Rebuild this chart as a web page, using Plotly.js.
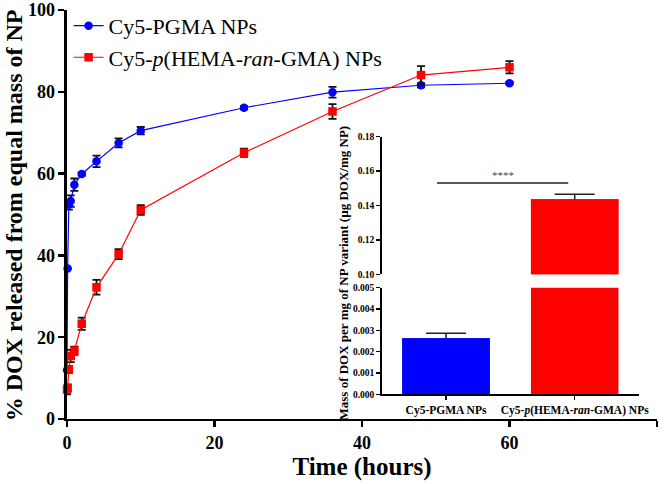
<!DOCTYPE html>
<html>
<head>
<meta charset="utf-8">
<script src="https://cdn.plot.ly/plotly-3.0.1.min.js"></script>
<style>
  html, body { margin:0; padding:0; background:#fff; }
  #chart { width:666px; height:484px; }
</style>
</head>
<body>
<div id="chart"></div>
<script>
// release profile, % DOX released vs time (h)
const timeH      = [0, 0.083, 0.25, 0.5, 1, 2, 4, 7, 10, 24, 36, 48, 60];
const pgmaRel    = [12.0, 36.8, 52.4, 53.3, 57.3, 59.9, 63.0, 67.5, 70.5, 76.1, 79.9, 81.6, 82.1];
const pgmaErr    = [0, 0, 1.2, 1.4, 1.5, 0.4, 1.4, 1.1, 0.9, 0.4, 1.3, 0.5, 0.3];
const hemaRel    = [7.2, 7.6, 12.1, 15.4, 16.7, 23.3, 32.2, 40.3, 51.1, 65.1, 75.2, 84.1, 86.0];
const hemaErr    = [1.2, 0.8, 0.8, 1.5, 1.0, 1.5, 1.8, 1.2, 1.2, 1.0, 1.8, 2.2, 1.5];

// inset: DOX loading per mg NP
const barCats  = ['Cy5-PGMA NPs', 'Cy5-<i>p</i>(HEMA-<i>ran</i>-GMA) NPs'];
const barMeans = [0.00263, 0.1436];
const barErr   = [0.00023, 0.0029];

const serif = 'Liberation Serif, Times New Roman, serif';
const BLUE = '#0000ff', RED = '#ff0000';

const errStyle = (arr) => ({ type:'data', array:arr, visible:true, color:'#111', thickness:1.8, width:4 });

const main = [
  { x:timeH, y:pgmaRel, name:'Cy5-PGMA NPs', type:'scatter', mode:'lines+markers',
    line:{color:BLUE, width:1.2}, marker:{symbol:'circle', size:8.5, color:BLUE},
    error_y:errStyle(pgmaErr), cliponaxis:false },
  { x:timeH, y:hemaRel, name:'Cy5-<i>p</i>(HEMA-<i>ran</i>-GMA) NPs', type:'scatter', mode:'lines+markers',
    line:{color:RED, width:1.2}, marker:{symbol:'square', size:8.5, color:RED},
    error_y:errStyle(hemaErr), cliponaxis:false },
];

// inset bars: first trace carries the error bar, a plain copy on top hides the lower whisker
const barErrStyle = (v) => ({ type:'data', array:[v], symmetric:true, visible:true, color:'#222', thickness:1.5, width:20 });
const inset = [
  { x:[barCats[0]], y:[barMeans[0]], type:'bar', xaxis:'x2', yaxis:'y3', width:0.68,
    marker:{color:BLUE}, error_y:barErrStyle(barErr[0]), showlegend:false, hoverinfo:'skip' },
  { x:barCats, y:barMeans, type:'bar', xaxis:'x2', yaxis:'y3', width:0.68,
    marker:{color:[BLUE, RED]}, showlegend:false },
  { x:[barCats[1]], y:[barMeans[1]], type:'bar', xaxis:'x2', yaxis:'y2', width:0.68,
    marker:{color:RED}, error_y:barErrStyle(barErr[1]), showlegend:false, hoverinfo:'skip' },
  { x:[barCats[1]], y:[barMeans[1]], type:'bar', xaxis:'x2', yaxis:'y2', width:0.68,
    marker:{color:RED}, showlegend:false },
];

const mainAxis = {
  showline:true, linecolor:'#000', linewidth:2.5, ticks:'outside', ticklen:6, tickwidth:2.5,
  tickcolor:'#000', showgrid:false, zeroline:false,
  tickfont:{family:serif, size:18, color:'#000', weight:'bold'},
};
const insetY = {
  showline:true, linecolor:'#000', linewidth:1.5, ticks:'outside', ticklen:4, tickwidth:1.5,
  tickcolor:'#000', showgrid:false, zeroline:false, anchor:'x2',
  tickfont:{family:serif, size:9.5, color:'#000', weight:'bold'},
};

const layout = {
  width:666, height:484, margin:{l:0, r:0, t:0, b:0},
  paper_bgcolor:'#fff', plot_bgcolor:'rgba(0,0,0,0)',
  barmode:'overlay', showlegend:true,
  legend:{x:0.103, y:0.99, xanchor:'left', yanchor:'top', bgcolor:'rgba(0,0,0,0)',
          font:{family:serif, size:22, color:'#000'}, tracegroupgap:0},
  xaxis:{ ...mainAxis, domain:[0.1006, 0.9865], range:[0, 80], dtick:20, anchor:'y',
          title:{text:'<b>Time (hours)</b>', font:{family:serif, size:25, color:'#000'}, standoff:2} },
  yaxis:{ ...mainAxis, domain:[0.1343, 0.9793], range:[0, 100], dtick:20, anchor:'x' },
  xaxis2:{ domain:[0.5731, 0.9595], anchor:'y3', type:'category',
           categoryorder:'array', categoryarray:barCats, range:[-0.5, 1.5],
           showline:true, linecolor:'#000', linewidth:1.5, ticks:'outside', ticklen:4, tickwidth:1.5,
           tickcolor:'#000', showgrid:false, zeroline:false,
           tickfont:{family:serif, size:11.5, color:'#000', weight:'bold'} },
  yaxis2:{ ...insetY, domain:[0.4333, 0.7176], range:[0.10, 0.18], dtick:0.02, tickformat:'.2f' },
  yaxis3:{ ...insetY, domain:[0.1853, 0.4056], range:[0, 0.005], dtick:0.001, tickformat:'.3f' },
  shapes:[
    { type:'line', xref:'x2', yref:'y2', x0:-0.07, x1:0.95, y0:0.1531, y1:0.1531,
      line:{color:'#222', width:1.5} },
  ],
  annotations:[
    { text:'<b>% DOX released from equal mass of NP</b>', textangle:-90, showarrow:false,
      xref:'paper', yref:'paper', x:0.0215, y:0.556, xanchor:'center', yanchor:'middle',
      font:{family:serif, size:24, color:'#000'} },
    { text:'<b>Mass of DOX per mg of NP variant (µg DOX/mg NP)</b>', textangle:-90, showarrow:false,
      xref:'paper', yref:'paper', x:0.5165, y:0.437, xanchor:'center', yanchor:'middle',
      font:{family:serif, size:13, color:'#000'} },
    { text:'****', showarrow:false, xref:'x2', yref:'y2', x:0.44, y:0.1531, yanchor:'bottom',
      font:{family:serif, size:11, color:'#444'} },
  ],
};

Plotly.newPlot('chart', [...main, ...inset], layout, {displayModeBar:false, staticPlot:true});
</script>
</body>
</html>
